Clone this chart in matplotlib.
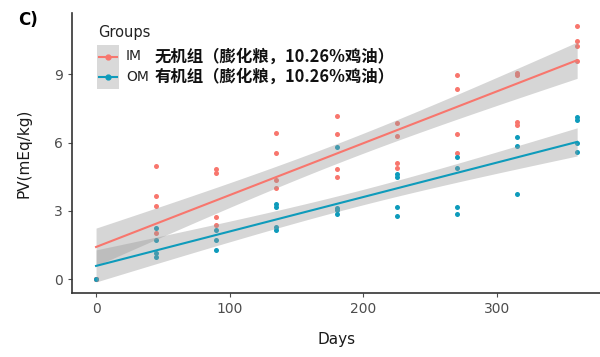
import numpy as np
import matplotlib
matplotlib.use("Agg")
import matplotlib.pyplot as plt

days = [0, 45, 90, 135, 180, 225, 270, 315, 360]
im_values = [
    [0.0, 0.0, 0.0],
    [4.97, 3.64, 3.20, 2.03],
    [4.86, 4.65, 2.73, 2.37],
    [6.40, 5.56, 4.34, 3.99],
    [7.17, 6.38, 4.85, 4.48],
    [6.87, 6.29, 5.12, 4.87],
    [8.97, 8.37, 6.37, 5.56],
    [9.07, 8.97, 6.92, 6.79],
    [11.12, 10.47, 10.24, 9.60],
]
om_values = [
    [0.0],
    [2.25, 1.71, 1.15, 1.00],
    [2.18, 1.74, 1.30],
    [3.29, 3.19, 2.31, 2.16],
    [5.82, 3.15, 3.03, 2.87],
    [4.61, 4.50, 3.19, 2.80],
    [5.38, 4.90, 3.17, 2.87],
    [6.26, 5.85, 3.73],
    [7.11, 6.99, 5.97, 5.60],
]
group_names = ["IM", "OM"]
group_desc = ["无机组（膨化粮，10.26%鸡油）", "有机组（膨化粮，10.26%鸡油）"]
colors = ["#F8766D", "#0E9BBB"]
xticks = [0, 100, 200, 300]
yticks = [0, 3, 6, 9]


def flatten(vals):
    xs, ys = [], []
    for d, v in zip(days, vals):
        for y in v:
            xs.append(d)
            ys.append(y)
    return np.array(xs, float), np.array(ys, float)


def tquant(df, z=1.959964):
    return z + (z**3 + z) / (4 * df) + (5 * z**5 + 16 * z**3 + 3 * z) / (96 * df**2)


def lmfit(x, y):
    n = len(x)
    b, a = np.polyfit(x, y, 1)
    res = y - (a + b * x)
    s = np.sqrt(np.sum(res**2) / (n - 2))
    xg = np.linspace(x.min(), x.max(), 80)
    yg = a + b * xg
    se = s * np.sqrt(1 / n + (xg - x.mean())**2 / np.sum((x - x.mean())**2))
    t = tquant(n - 2)
    return xg, yg, yg - t * se, yg + t * se


fig = plt.figure(figsize=(6, 3.57), dpi=100)
ax = fig.add_axes([0.12, 0.18, 0.882, 0.783])

for vals, col in zip([im_values, om_values], colors):
    x, y = flatten(vals)
    ax.scatter(x, y, s=13, color=col, zorder=2, linewidths=0)

for vals, col in zip([im_values, om_values], colors):
    x, y = flatten(vals)
    xg, yg, lo, hi = lmfit(x, y)
    ax.fill_between(xg, lo, hi, color="#999999", alpha=0.4, linewidth=0, zorder=3)
    ax.plot(xg, yg, color=col, lw=1.5, zorder=4)

ax.set_xlim(-18, 378)
ax.set_ylim(-0.59, 11.68)
ax.set_xticks(xticks)
ax.set_yticks(yticks)
ax.tick_params(colors="#4D4D4D", labelsize=10, length=3, width=0.8)
for s in ["top", "right"]:
    ax.spines[s].set_visible(False)
for s in ["left", "bottom"]:
    ax.spines[s].set_color("#333333")
    ax.spines[s].set_linewidth(1.2)
ax.set_xlabel("Days", fontsize=11, labelpad=12, color="#1a1a1a")
ax.set_ylabel("PV(mEq/kg)", fontsize=11, labelpad=16, color="#1a1a1a")

fig.text(0.03, 1 - 20 / 357, "C)", fontsize=12, fontweight="bold", ha="left", va="center")

# legend
fig.text(98 / 600, 1 - 33 / 357, "Groups", fontsize=10.5, color="#222222", ha="left", va="center")
fig.patches.append(plt.Rectangle((97 / 600, 1 - 89 / 357), 22 / 600, 44 / 357,
                                 transform=fig.transFigure, color="#D9D9D9", lw=0))
for i, (name, desc, col) in enumerate(zip(group_names, group_desc, colors)):
    yy = 1 - (56.5 + 20.5 * i) / 357
    fig.add_artist(plt.Line2D([99 / 600, 117 / 600], [yy, yy], transform=fig.transFigure,
                              color=col, lw=1.5, zorder=5))
    fig.add_artist(plt.Line2D([108 / 600], [yy], transform=fig.transFigure,
                              color=col, marker="o", markersize=3.5, lw=0, zorder=6))
    fig.text(126 / 600, yy, name, fontsize=10, color="#222222", ha="left", va="center")
    fig.text(155 / 600, yy, desc, fontsize=11.8, fontweight="bold", color="#111111",
             ha="left", va="center", family=["Noto Sans CJK SC", "DejaVu Sans"])

fig.savefig("out.png", dpi=100)
